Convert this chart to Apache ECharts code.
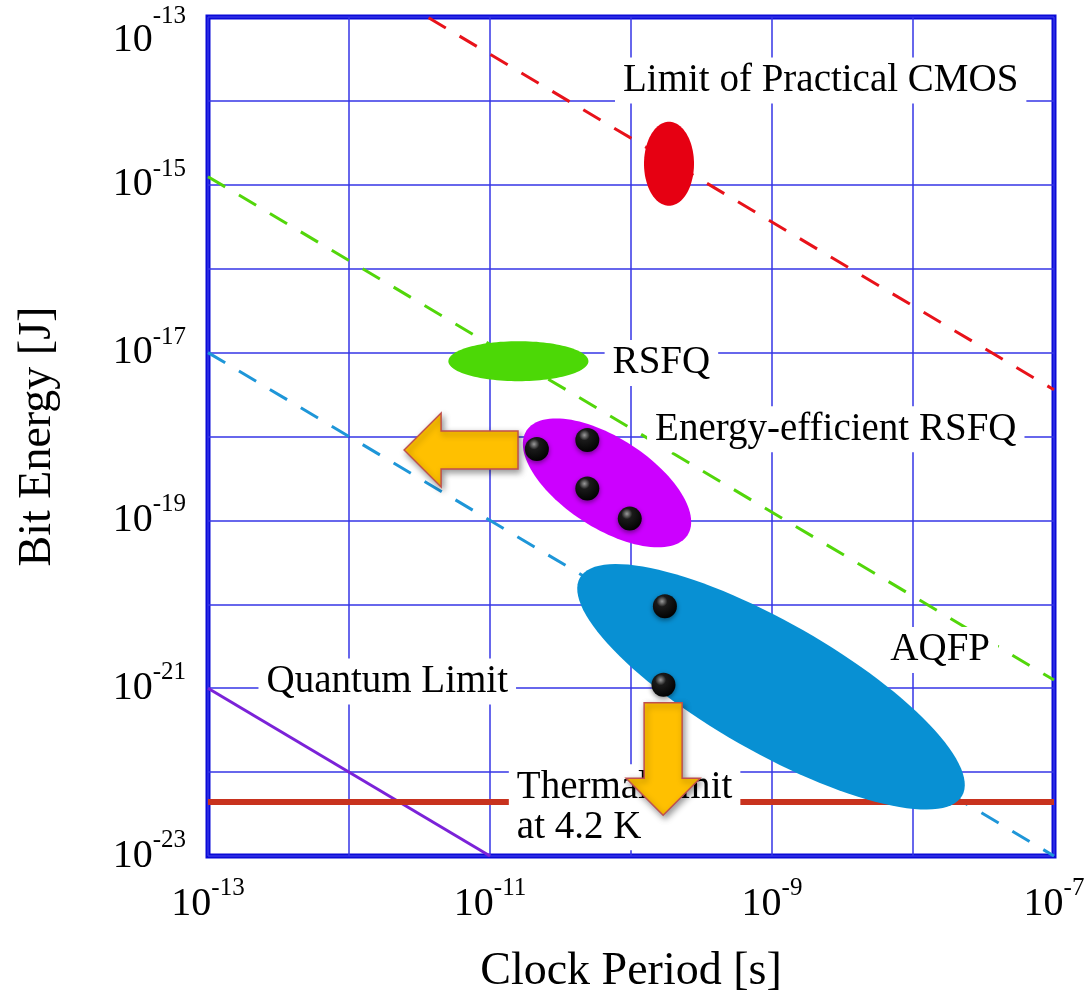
<!DOCTYPE html>
<html>
<head>
<meta charset="utf-8">
<script src="https://cdn.jsdelivr.net/npm/echarts@6/dist/echarts.min.js"></script>
<style>
html, body { margin: 0; padding: 0; background: #fff; }
#chart { width: 1089px; height: 1000px; }
</style>
</head>
<body>
<div id="chart"></div>
<script>
// limit lines, each as two [clock period, bit energy] end points
// (together they span the axis range 1e-13..1e-7 s, 1e-23..1e-13 J)
const cmosLimit = [[3.67e-12, 9.8e-14], [1e-7, 3.6e-18]];
const rsfqLimit = [[1e-13, 1.25e-15], [1e-7, 1.25e-21]];
const aqfpLimit = [[1e-13, 1e-17], [1e-7, 1e-23]];
const quantumLimit = [[1e-13, 1e-21], [1e-11, 1e-23]];
const thermalLimit = [[1e-13, 4.4e-23], [1e-7, 4.4e-23]];

// technology regions (centres)
const regionNames = ['CMOS', 'RSFQ', 'ERSFQ', 'AQFP'];
const regionX = [1.86e-10, 1.59e-11, 6.76e-11, 9.84e-10];
const regionY = [1.78e-15, 7.9e-18, 2.8e-19, 1.04e-21];

// measured circuits
const deviceX = [2.15e-11, 4.9e-11, 4.9e-11, 9.8e-11, 1.74e-10, 1.7e-10];
const deviceY = [7.1e-19, 9.1e-19, 2.4e-19, 1.05e-19, 9.5e-21, 1.1e-21];

// trend arrows: from -> to
const arrowFrom = [[1.58e-11, 6.9e-19], [1.69e-10, 6.7e-22]];
const arrowTo = [[2.46e-12, 6.9e-19], [1.69e-10, 3.06e-23]];

// annotations (box left edge, vertical middle)
const labelText = ['Limit of Practical CMOS', 'RSFQ', 'Energy-efficient RSFQ', 'AQFP', 'Quantum Limit', 'Thermal limit\nat 4.2 K'];
const labelX = [7.7e-11, 6.5e-11, 1.3e-10, 6.06e-9, 2.28e-13, 1.36e-11];
const labelY = [1.75e-14, 7.5e-18, 1.22e-18, 2.85e-21, 1.2e-21, 3.8e-23];

const FONT = '"Liberation Serif", "Times New Roman", serif';

// pixel look of each region
const regionStyle = [
  { rx: 25, ry: 42, rot: 0, color: '#e60012' },
  { rx: 70, ry: 20, rot: 0, color: '#4cd806' },
  { rx: 96, ry: 45, rot: 33, color: '#cc00ff' },
  { rx: 220, ry: 65, rot: 29.7, color: '#0890d3' }
];

function ellipsePoints(cx, cy, rx, ry, deg) {
  const r = deg * Math.PI / 180;
  const c = Math.cos(r), s = Math.sin(r);
  const pts = [];
  for (let k = 0; k < 120; k++) {
    const t = k / 120 * Math.PI * 2;
    const ex = rx * Math.cos(t), ey = ry * Math.sin(t);
    pts.push([cx + ex * c - ey * s, cy + ex * s + ey * c]);
  }
  return pts;
}

function arrowPoints(p0, p1) {
  const dx = p1[0] - p0[0], dy = p1[1] - p0[1];
  const len = Math.hypot(dx, dy);
  const ux = dx / len, uy = dy / len, nx = -uy, ny = ux;
  const sw = 19, hw = 37, hl = 37;
  const bx = p1[0] - ux * hl, by = p1[1] - uy * hl;
  return [
    [p0[0] + nx * sw, p0[1] + ny * sw],
    [bx + nx * sw, by + ny * sw],
    [bx + nx * hw, by + ny * hw],
    p1,
    [bx - nx * hw, by - ny * hw],
    [bx - nx * sw, by - ny * sw],
    [p0[0] - nx * sw, p0[1] - ny * sw]
  ];
}

function expOf(v) {
  return Math.round(Math.log10(v));
}

const tickRich = {
  b: { fontSize: 40, fontFamily: FONT, color: '#000', lineHeight: 56 },
  s: { fontSize: 25, fontFamily: FONT, color: '#000', lineHeight: 25, verticalAlign: 'top' },
  gap: { height: 86, width: 0 },
  bt: { fontSize: 40, fontFamily: FONT, color: '#000', lineHeight: 56, verticalAlign: 'bottom' },
  st: { fontSize: 25, fontFamily: FONT, color: '#000', lineHeight: 25, padding: [0, 0, 31, 0], verticalAlign: 'bottom' }
};

function dashed(name, pts, color) {
  return {
    name: name,
    type: 'line',
    data: pts,
    showSymbol: false,
    silent: true,
    z: 2,
    lineStyle: { color: color, width: 3, type: [20, 16] }
  };
}

const chart = echarts.init(document.getElementById('chart'));

const option = {
  backgroundColor: '#fff',
  animation: false,
  grid: {
    left: 208, right: 35, top: 17, bottom: 140,
    show: true,
    borderColor: '#0a0ad8',
    borderWidth: 5
  },
  xAxis: {
    type: 'log',
    logBase: 10,
    splitNumber: 6,
    name: 'Clock Period [s]',
    nameLocation: 'middle',
    nameGap: 93,
    nameTextStyle: { fontSize: 46, fontFamily: FONT, color: '#000' },
    axisLine: { show: false },
    axisTick: { show: false },
    splitLine: { show: true, lineStyle: { color: '#3535e6', width: 1.5 } },
    axisLabel: {
      margin: 20,
      formatter: function (v) {
        const e = expOf(v);
        return e % 2 === 0 ? '' : '{b|10}{s|' + e + '}';
      },
      rich: tickRich
    }
  },
  yAxis: {
    type: 'log',
    logBase: 10,
    splitNumber: 10,
    name: 'Bit Energy [J]',
    nameLocation: 'middle',
    nameGap: 147,
    nameTextStyle: { fontSize: 46, fontFamily: FONT, color: '#000' },
    axisLine: { show: false },
    axisTick: { show: false },
    splitLine: { show: true, lineStyle: { color: '#3535e6', width: 1.5 } },
    axisLabel: {
      margin: 22,
      formatter: function (v) {
        const e = expOf(v);
        if (e % 2 === 0) return '';
        if (e === -13) return '{gap|}{bt|10}{st|' + e + '}';
        return '{b|10}{s|' + e + '}';
      },
      rich: tickRich
    }
  },
  series: [
    dashed('CMOS limit', cmosLimit, '#e8121a'),
    dashed('RSFQ', rsfqLimit, '#52d60a'),
    dashed('AQFP', aqfpLimit, '#1e96d8'),
    {
      name: 'Quantum Limit',
      type: 'line',
      data: quantumLimit,
      showSymbol: false,
      silent: true,
      z: 2,
      lineStyle: { color: '#7b22d8', width: 3 }
    },
    {
      name: 'Thermal limit',
      type: 'line',
      data: thermalLimit,
      showSymbol: false,
      silent: true,
      z: 2,
      lineStyle: { color: '#c8321e', width: 6 }
    },
    {
      name: 'regions',
      type: 'custom',
      z: 3,
      silent: true,
      data: regionX.map((x, i) => [x, regionY[i], i]),
      renderItem: function (params, api) {
        const st = regionStyle[api.value(2)];
        const c = api.coord([api.value(0), api.value(1)]);
        return {
          type: 'polygon',
          shape: { points: ellipsePoints(c[0], c[1], st.rx, st.ry, st.rot) },
          style: { fill: st.color }
        };
      }
    },
    {
      name: 'devices',
      type: 'scatter',
      z: 4,
      silent: true,
      symbolSize: 24,
      data: deviceX.map((x, i) => [x, deviceY[i]]),
      itemStyle: {
        color: new echarts.graphic.RadialGradient(0.38, 0.3, 0.75, [
          { offset: 0, color: '#9a9a9a' },
          { offset: 0.3, color: '#1a1a1a' },
          { offset: 1, color: '#000' }
        ]),
        opacity: 1,
        shadowBlur: 5,
        shadowColor: 'rgba(0,0,0,0.45)',
        shadowOffsetY: 2
      }
    },
    {
      name: 'labels',
      type: 'custom',
      z: 5,
      silent: true,
      data: labelX.map((x, i) => [x, labelY[i], i]),
      renderItem: function (params, api) {
        const i = api.value(2);
        const p = api.coord([api.value(0), api.value(1)]);
        return {
          type: 'text',
          x: p[0],
          y: p[1],
          style: {
            text: labelText[i],
            fill: '#000',
            fontSize: 39,
            fontFamily: FONT,
            lineHeight: 40,
            align: 'left',
            verticalAlign: 'middle',
            backgroundColor: '#fff',
            padding: [3, 8]
          }
        };
      }
    },
    {
      name: 'arrows',
      type: 'custom',
      z: 6,
      silent: true,
      data: arrowFrom.map((a, i) => [a[0], a[1], arrowTo[i][0], arrowTo[i][1]]),
      renderItem: function (params, api) {
        const p0 = api.coord([api.value(0), api.value(1)]);
        const p1 = api.coord([api.value(2), api.value(3)]);
        return {
          type: 'polygon',
          shape: { points: arrowPoints(p0, p1) },
          style: {
            fill: '#ffc000',
            stroke: '#c0504d',
            lineWidth: 1.5,
            shadowBlur: 6,
            shadowColor: 'rgba(0,0,0,0.4)',
            shadowOffsetX: 2,
            shadowOffsetY: 3
          }
        };
      }
    }
  ]
};

chart.setOption(option);
</script>
</body>
</html>
